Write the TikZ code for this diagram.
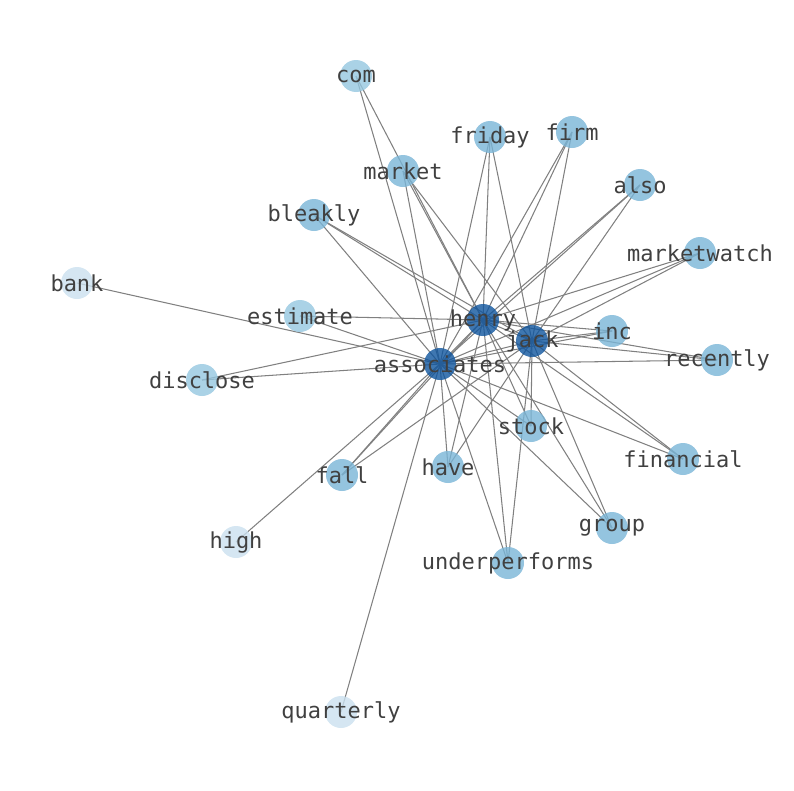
\documentclass[tikz,border=0pt]{standalone}
\usepackage{fontspec}
\newfontfamily\dvm{DejaVu Sans Mono}
\definecolor{hubc}{HTML}{0F559E}
\definecolor{d3c}{HTML}{79B5D7}
\definecolor{d2c}{HTML}{95C7E0}
\definecolor{d1c}{HTML}{CAE0EF}
\definecolor{txtc}{HTML}{404040}
\tikzset{
  wnode/.style={circle, inner sep=0pt, minimum size=32pt, fill opacity=0.8, draw=none},
  hubnode/.style={wnode, fill=hubc},
  deg3/.style={wnode, fill=d3c},
  deg2/.style={wnode, fill=d2c},
  deg1/.style={wnode, fill=d1c},
  lbl/.style={inner sep=0pt, text=txtc, font=\dvm\fontsize{22}{24}\selectfont},
  edge/.style={draw=black!50, line width=1.05pt}
}
\begin{document}
\begin{tikzpicture}[x=1pt,y=-1pt]
\useasboundingbox (0,0) rectangle (794,790);
% positions
\coordinate (com) at (356,76);
\coordinate (friday) at (490,137);
\coordinate (firm) at (572,132);
\coordinate (market) at (403,171);
\coordinate (also) at (640,185);
\coordinate (bleakly) at (314,215);
\coordinate (marketwatch) at (700,253);
\coordinate (bank) at (77,283);
\coordinate (estimate) at (300,316);
\coordinate (henry) at (483,320);
\coordinate (inc) at (612,331);
\coordinate (jack) at (532,341);
\coordinate (recently) at (717,360);
\coordinate (associates) at (440,364);
\coordinate (disclose) at (202,380);
\coordinate (stock) at (531,426);
\coordinate (financial) at (683,459);
\coordinate (have) at (448,467);
\coordinate (fall) at (342,475);
\coordinate (group) at (612,528);
\coordinate (high) at (236,542);
\coordinate (underperforms) at (508,563);
\coordinate (quarterly) at (341,712);
% edges
\draw[edge] (henry) -- (jack);
\draw[edge] (henry) -- (associates);
\draw[edge] (jack) -- (associates);
\foreach \w in {market,friday,firm,also,marketwatch,inc,recently,bleakly,stock,financial,have,fall,group,underperforms}{
  \draw[edge] (\w) -- (associates);
  \draw[edge] (\w) -- (henry);
  \draw[edge] (\w) -- (jack);
}
\foreach \w in {com,estimate,disclose}{
  \draw[edge] (\w) -- (associates);
  \draw[edge] (\w) -- (henry);
}
\foreach \w in {bank,high,quarterly}{
  \draw[edge] (\w) -- (associates);
}
% circles
\foreach \w in {henry,jack,associates}{ \node[hubnode] at (\w) {}; }
\foreach \w in {market,friday,firm,also,marketwatch,inc,recently,bleakly,stock,financial,have,fall,group,underperforms}{ \node[deg3] at (\w) {}; }
\foreach \w in {com,estimate,disclose}{ \node[deg2] at (\w) {}; }
\foreach \w in {bank,high,quarterly}{ \node[deg1] at (\w) {}; }
% labels
\foreach \w in {com,friday,firm,market,also,bleakly,marketwatch,bank,estimate,henry,inc,jack,recently,associates,disclose,stock,financial,have,fall,group,high,underperforms,quarterly}{
  \node[lbl] at (\w) {\w};
}
\end{tikzpicture}
\end{document}
